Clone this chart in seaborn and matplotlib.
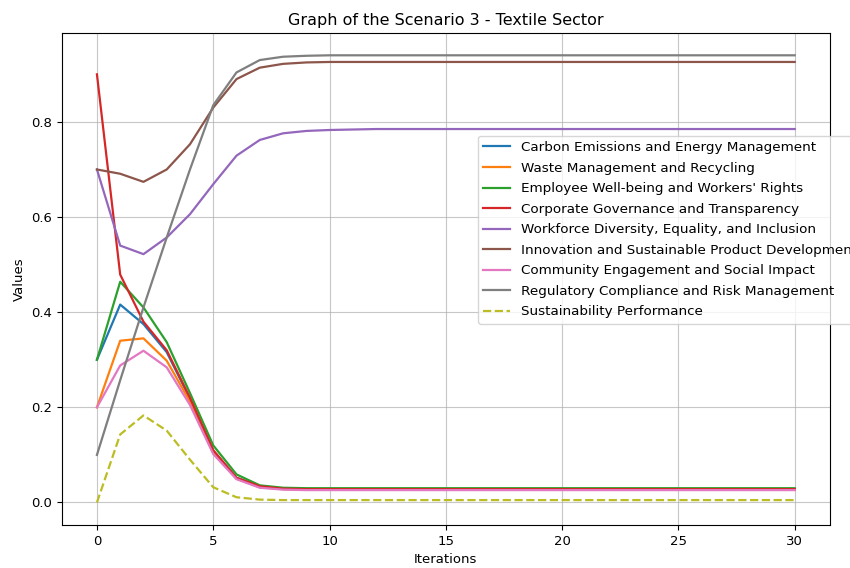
import matplotlib
matplotlib.use("Agg")
import matplotlib.pyplot as plt
import seaborn as sns
import pandas as pd

iterations = list(range(31))

series_names = [
    "Carbon Emissions and Energy Management",
    "Waste Management and Recycling",
    "Employee Well-being and Workers' Rights",
    "Corporate Governance and Transparency",
    "Workforce Diversity, Equality, and Inclusion",
    "Innovation and Sustainable Product Development",
    "Community Engagement and Social Impact",
    "Regulatory Compliance and Risk Management",
    "Sustainability Performance",
]

carbon = [0.300, 0.416, 0.375, 0.316, 0.218, 0.108, 0.052, 0.034, 0.029, 0.028,
          0.028, 0.028, 0.028, 0.028, 0.028, 0.028, 0.028, 0.028, 0.028, 0.028,
          0.028, 0.028, 0.028, 0.028, 0.028, 0.028, 0.028, 0.028, 0.028, 0.028, 0.028]
waste = [0.200, 0.340, 0.345, 0.298, 0.212, 0.104, 0.050, 0.032, 0.028, 0.027,
         0.027, 0.027, 0.027, 0.027, 0.027, 0.027, 0.027, 0.027, 0.027, 0.027,
         0.027, 0.027, 0.027, 0.027, 0.027, 0.027, 0.027, 0.027, 0.027, 0.027, 0.027]
employee = [0.300, 0.464, 0.410, 0.337, 0.230, 0.120, 0.059, 0.036, 0.031, 0.030,
            0.030, 0.030, 0.030, 0.030, 0.030, 0.030, 0.030, 0.030, 0.030, 0.030,
            0.030, 0.030, 0.030, 0.030, 0.030, 0.030, 0.030, 0.030, 0.030, 0.030, 0.030]
governance = [0.900, 0.479, 0.380, 0.320, 0.220, 0.110, 0.052, 0.034, 0.029, 0.028,
              0.028, 0.028, 0.028, 0.028, 0.028, 0.028, 0.028, 0.028, 0.028, 0.028,
              0.028, 0.028, 0.028, 0.028, 0.028, 0.028, 0.028, 0.028, 0.028, 0.028, 0.028]
diversity = [0.700, 0.540, 0.522, 0.557, 0.606, 0.669, 0.729, 0.762, 0.776, 0.781,
             0.783, 0.784, 0.785, 0.785, 0.785, 0.785, 0.785, 0.785, 0.785, 0.785,
             0.785, 0.785, 0.785, 0.785, 0.785, 0.785, 0.785, 0.785, 0.785, 0.785, 0.785]
innovation = [0.700, 0.691, 0.674, 0.700, 0.753, 0.830, 0.890, 0.914, 0.922, 0.925,
              0.926, 0.926, 0.926, 0.926, 0.926, 0.926, 0.926, 0.926, 0.926, 0.926,
              0.926, 0.926, 0.926, 0.926, 0.926, 0.926, 0.926, 0.926, 0.926, 0.926, 0.926]
community = [0.200, 0.288, 0.319, 0.284, 0.205, 0.102, 0.049, 0.031, 0.027, 0.026,
             0.026, 0.026, 0.026, 0.026, 0.026, 0.026, 0.026, 0.026, 0.026, 0.026,
             0.026, 0.026, 0.026, 0.026, 0.026, 0.026, 0.026, 0.026, 0.026, 0.026, 0.026]
regulatory = [0.100, 0.257, 0.410, 0.557, 0.700, 0.835, 0.904, 0.930, 0.937, 0.939,
              0.940, 0.940, 0.940, 0.940, 0.940, 0.940, 0.940, 0.940, 0.940, 0.940,
              0.940, 0.940, 0.940, 0.940, 0.940, 0.940, 0.940, 0.940, 0.940, 0.940, 0.940]
performance = [0.000, 0.143, 0.183, 0.151, 0.090, 0.032, 0.011, 0.006, 0.005, 0.005,
               0.005, 0.005, 0.005, 0.005, 0.005, 0.005, 0.005, 0.005, 0.005, 0.005,
               0.005, 0.005, 0.005, 0.005, 0.005, 0.005, 0.005, 0.005, 0.005, 0.005, 0.005]

all_values = [carbon, waste, employee, governance, diversity, innovation,
              community, regulatory, performance]

colors = ["#1f77b4", "#ff7f0e", "#2ca02c", "#d62728", "#9467bd",
          "#8c564b", "#e377c2", "#7f7f7f", "#bcbd22"]

plt.rcParams["font.family"] = ["DejaVu Sans"]
plt.rcParams["font.size"] = 9.5

fig, ax = plt.subplots(figsize=(8.5, 5.68), dpi=100)
fig.subplots_adjust(left=0.073, right=0.976, top=0.942, bottom=0.076)

for name, vals, col in zip(series_names, all_values, colors):
    df = pd.DataFrame({"Iterations": iterations, "Values": vals})
    ls = "--" if name == "Sustainability Performance" else "-"
    sns.lineplot(data=df, x="Iterations", y="Values", ax=ax, color=col,
                 linestyle=ls, label=name, linewidth=1.6)

ax.set_title("Graph of the Scenario 3 - Textile Sector", fontsize=11.5)
ax.set_xlabel("Iterations", fontsize=9.5)
ax.set_ylabel("Values", fontsize=9.5)
ax.grid(True, color="#b0b0b0", linewidth=0.8, alpha=0.7)
ax.tick_params(labelsize=9.5)
ax.legend(loc="upper left", bbox_to_anchor=(0.5417, 0.791), borderaxespad=0,
          fontsize=9.7, framealpha=0.8, labelspacing=0.56)

fig.savefig("out.png", dpi=100)
